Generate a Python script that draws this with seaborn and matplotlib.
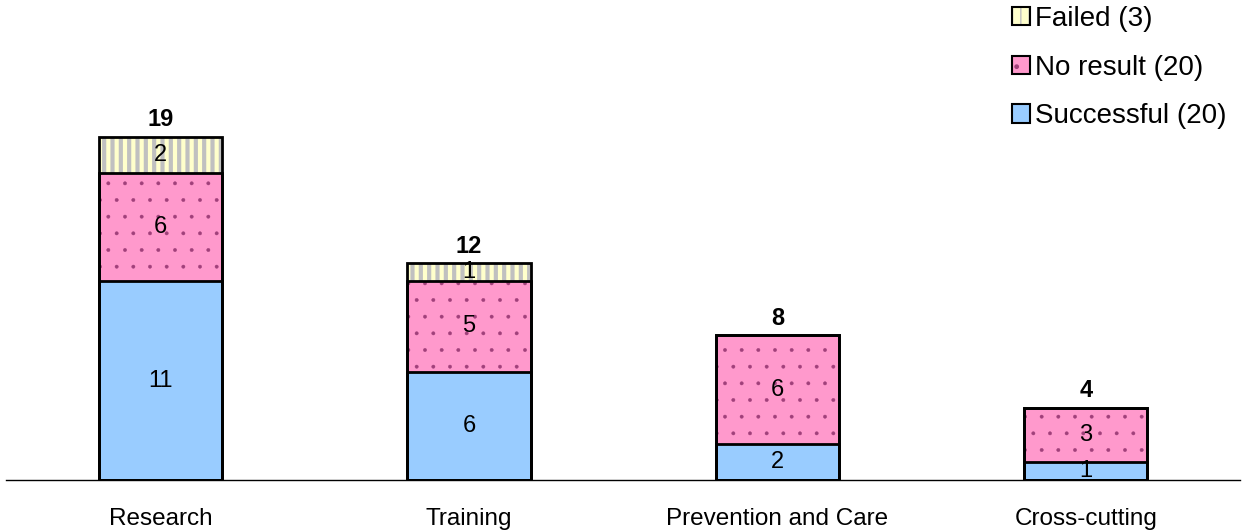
import pandas as pd
import seaborn as sns
import matplotlib.pyplot as plt
from matplotlib.patches import Patch

sns.set_style("white")
plt.rcParams['font.family'] = ['Liberation Sans', 'DejaVu Sans']
plt.rcParams['text.color'] = 'black'
plt.rcParams['xtick.color'] = 'black'

# Data
categories = ["Research", "Training", "Prevention and Care", "Cross-cutting"]
successful = [11, 6, 2, 1]
no_result = [6, 5, 6, 3]
failed = [2, 1, 0, 0]
legend_labels = ["Failed (3)", "No result (20)", "Successful (20)"]

totals = [s + n + f for s, n, f in zip(successful, no_result, failed)]
cum_sn = [s + n for s, n in zip(successful, no_result)]

df = pd.DataFrame({"cat": categories, "s": successful, "n": no_result,
                   "f": failed, "sn": cum_sn, "total": totals})

fig = plt.figure(figsize=(12.44, 5.31), dpi=100)
ax = fig.add_axes([0.005, 0.096, 0.9918, 0.885])

# (column, face colour, hatch, hatch colour, hatch width) drawn back to front
layers = [("total", "#FFFFCC", "||", "#C0C0C0", 3.0),
          ("sn", "#FF99CC", ".", "#A0407A", 0.3),
          ("s", "#99CCFF", "", "#99CCFF", 1.0)]

for col, face, hatch, hcol, hlw in layers:
    with plt.rc_context({'hatch.linewidth': hlw}):
        sns.barplot(data=df, x="cat", y=col, color=face, hatch=hatch,
                    edgecolor=hcol, linewidth=0, width=0.4, ax=ax,
                    saturation=1, errorbar=None)
    ax.bar(range(len(categories)), df[col], width=0.4, fill=False,
           edgecolor="black", linewidth=2, zorder=3)

# segment labels
for i in range(len(categories)):
    segs = [(0, successful[i]), (successful[i], no_result[i]),
            (cum_sn[i], failed[i])]
    for base, h in segs:
        if h > 0:
            ax.text(i, base + h / 2, str(h), ha="center", va="center",
                    fontsize=17, zorder=4)
    ax.text(i, totals[i] + 0.3, str(totals[i]), ha="center",
            va="bottom", fontsize=17, fontweight="bold")

ax.set_xlim(-0.5, 3.5)
ax.set_ylim(0, 26)
ax.set_xlabel("")
ax.set_ylabel("")
ax.set_yticks([])
ax.tick_params(axis="x", length=0, labelsize=17.5, pad=20)
for side in ["top", "left", "right"]:
    ax.spines[side].set_visible(False)
ax.spines["bottom"].set_color("black")
ax.spines["bottom"].set_linewidth(1)

handles = []
for col, face, hatch, hcol, hlw in layers:
    with plt.rc_context({'hatch.linewidth': hlw}):
        hp = Patch(facecolor=face, hatch=hatch, edgecolor=hcol, linewidth=0)
    handles.append((hp, Patch(fill=False, edgecolor="black", linewidth=1.5)))
fig.legend(handles, legend_labels, loc="upper right",
           bbox_to_anchor=(0.995, 1.01), frameon=False, fontsize=20,
           handlelength=0.65, handleheight=0.65, handletextpad=0.2,
           labelspacing=0.82, borderaxespad=0)

fig.savefig("out.png", dpi=100)
